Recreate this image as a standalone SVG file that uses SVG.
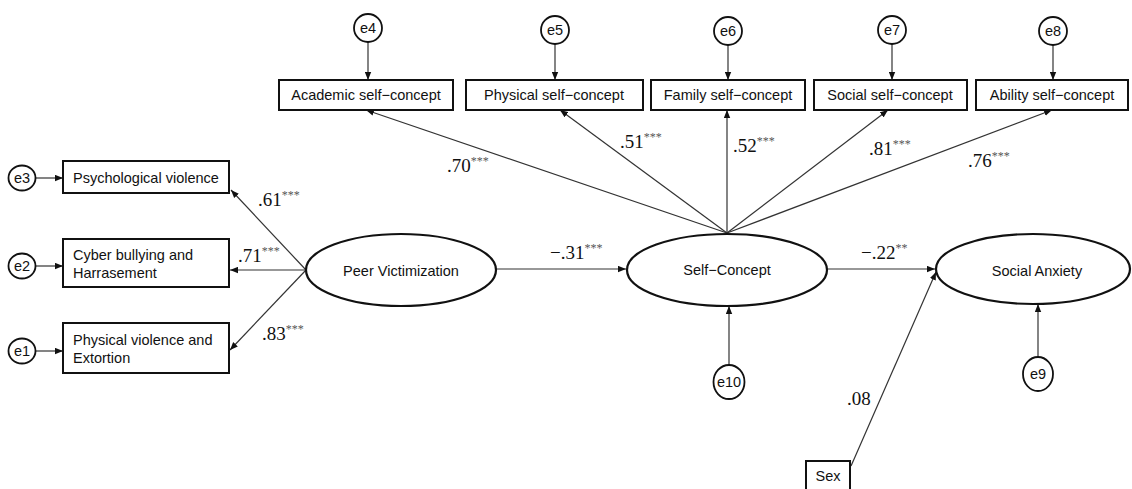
<svg xmlns="http://www.w3.org/2000/svg" width="1132" height="489" viewBox="0 0 1132 489">
<style>
.box{fill:#fff;stroke:#111;stroke-width:2}
.lat{fill:#fff;stroke:#111;stroke-width:2.2}
.err{fill:#fff;stroke:#111;stroke-width:1.8}
.t{font-family:"Liberation Sans",Arial,sans-serif;font-size:14.5px;fill:#111}
.tc{font-family:"Liberation Sans",Arial,sans-serif;font-size:14.5px;fill:#111;text-anchor:middle}
.num{font-family:"Liberation Serif","Times New Roman",serif;font-size:19px;fill:#111}
.sup{font-size:12px;fill:#555}
.c line{stroke:#333;stroke-width:1.2;marker-end:url(#ah)}
</style>
<defs>
<marker id="ah" viewBox="0 0 10 8" refX="10" refY="4" markerWidth="8" markerHeight="7" markerUnits="userSpaceOnUse" orient="auto">
<path d="M0,0 L10,4 L0,8 Z" fill="#111"/>
</marker>
</defs>
<rect width="1132" height="489" fill="#fff"/>

<g class="c" id="connectors">
<line x1="36" y1="178" x2="63" y2="178"/>
<line x1="36" y1="266" x2="63" y2="266"/>
<line x1="36" y1="351" x2="63" y2="351"/>
<line x1="306" y1="270" x2="231" y2="190"/>
<line x1="306" y1="270" x2="230" y2="270"/>
<line x1="306" y1="270" x2="230" y2="350"/>
<line x1="496" y1="269" x2="626" y2="269"/>
<line x1="827" y1="269" x2="935" y2="269"/>
<line x1="851" y1="466" x2="936" y2="272"/>
<line x1="729" y1="365" x2="729" y2="306"/>
<line x1="1038" y1="357" x2="1038" y2="304"/>
<line x1="727" y1="233" x2="366" y2="110"/>
<line x1="727" y1="233" x2="560" y2="110"/>
<line x1="727" y1="233" x2="727" y2="110"/>
<line x1="727" y1="233" x2="888" y2="110"/>
<line x1="727" y1="233" x2="1052" y2="110"/>
<line x1="368" y1="42" x2="368" y2="80"/>
<line x1="555" y1="44" x2="555" y2="80"/>
<line x1="728" y1="45" x2="728" y2="80"/>
<line x1="892" y1="44" x2="892" y2="80"/>
<line x1="1053" y1="45" x2="1053" y2="80"/>
</g>

<g id="labels">
<text class="num" x="258" y="206">.61<tspan class="sup" dy="-7">***</tspan></text>
<text class="num" x="238" y="262">.71<tspan class="sup" dy="-7">***</tspan></text>
<text class="num" x="262" y="340">.83<tspan class="sup" dy="-7">***</tspan></text>
<text class="num" x="550" y="259">−.31<tspan class="sup" dy="-7">***</tspan></text>
<text class="num" x="861" y="259">−.22<tspan class="sup" dy="-7">**</tspan></text>
<text class="num" x="847" y="405">.08</text>
<text class="num" x="447" y="172">.70<tspan class="sup" dy="-7">***</tspan></text>
<text class="num" x="620" y="148">.51<tspan class="sup" dy="-7">***</tspan></text>
<text class="num" x="733" y="152">.52<tspan class="sup" dy="-7">***</tspan></text>
<text class="num" x="869" y="155">.81<tspan class="sup" dy="-7">***</tspan></text>
<text class="num" x="968" y="167">.76<tspan class="sup" dy="-7">***</tspan></text>
</g>

<g id="e3"><ellipse class="err" cx="22" cy="178" rx="13.5" ry="12.5"/><text class="tc" x="22" y="183">e3</text></g>
<g id="e2"><ellipse class="err" cx="22" cy="266" rx="13.5" ry="12.5"/><text class="tc" x="22" y="271">e2</text></g>
<g id="e1"><ellipse class="err" cx="22" cy="351" rx="13.5" ry="12.5"/><text class="tc" x="22" y="356">e1</text></g>

<g id="psych"><rect class="box" x="63" y="161" width="166" height="32"/><text class="t" x="73" y="183">Psychological violence</text></g>
<g id="cyber"><rect class="box" x="63" y="239" width="166" height="48"/><text class="t" x="73" y="260">Cyber bullying and</text><text class="t" x="73" y="278">Harrasement</text></g>
<g id="physviol"><rect class="box" x="63" y="323" width="166" height="50"/><text class="t" x="73" y="345">Physical violence and</text><text class="t" x="73" y="363">Extortion</text></g>

<g id="peer"><ellipse class="lat" cx="401" cy="270" rx="95" ry="36"/><text class="tc" x="401" y="276">Peer Victimization</text></g>
<g id="self"><ellipse class="lat" cx="727" cy="270" rx="100" ry="36"/><text class="tc" x="727" y="275">Self−Concept</text></g>
<g id="anxiety"><ellipse class="lat" cx="1033" cy="269" rx="97" ry="35"/><text class="tc" x="1037" y="276">Social  Anxiety</text></g>

<g id="e10"><ellipse class="err" cx="729" cy="382" rx="15.5" ry="17"/><text class="tc" x="729" y="387">e10</text></g>
<g id="e9"><ellipse class="err" cx="1038" cy="374" rx="15" ry="17"/><text class="tc" x="1038" y="379">e9</text></g>
<g id="sex"><rect class="box" x="806" y="461" width="44" height="34"/><text class="tc" x="828" y="481">Sex</text></g>

<g id="academic"><rect class="box" x="279" y="80" width="174" height="30"/><text class="tc" x="366" y="100">Academic self−concept</text></g>
<g id="physical"><rect class="box" x="466" y="80" width="177" height="30"/><text class="tc" x="554" y="100">Physical self−concept</text></g>
<g id="family"><rect class="box" x="651" y="80" width="154" height="30"/><text class="tc" x="728" y="100">Family self−concept</text></g>
<g id="social"><rect class="box" x="814" y="80" width="153" height="30"/><text class="tc" x="890" y="100">Social self−concept</text></g>
<g id="ability"><rect class="box" x="976" y="80" width="152" height="30"/><text class="tc" x="1052" y="100">Ability self−concept</text></g>

<g id="e4"><ellipse class="err" cx="368" cy="28" rx="14" ry="14"/><text class="tc" x="368" y="33">e4</text></g>
<g id="e5"><ellipse class="err" cx="555" cy="30" rx="14" ry="14"/><text class="tc" x="555" y="35">e5</text></g>
<g id="e6"><ellipse class="err" cx="728" cy="31" rx="14" ry="14"/><text class="tc" x="728" y="36">e6</text></g>
<g id="e7"><ellipse class="err" cx="892" cy="30" rx="14" ry="14"/><text class="tc" x="892" y="35">e7</text></g>
<g id="e8"><ellipse class="err" cx="1053" cy="31" rx="14" ry="14"/><text class="tc" x="1053" y="36">e8</text></g>
</svg>
